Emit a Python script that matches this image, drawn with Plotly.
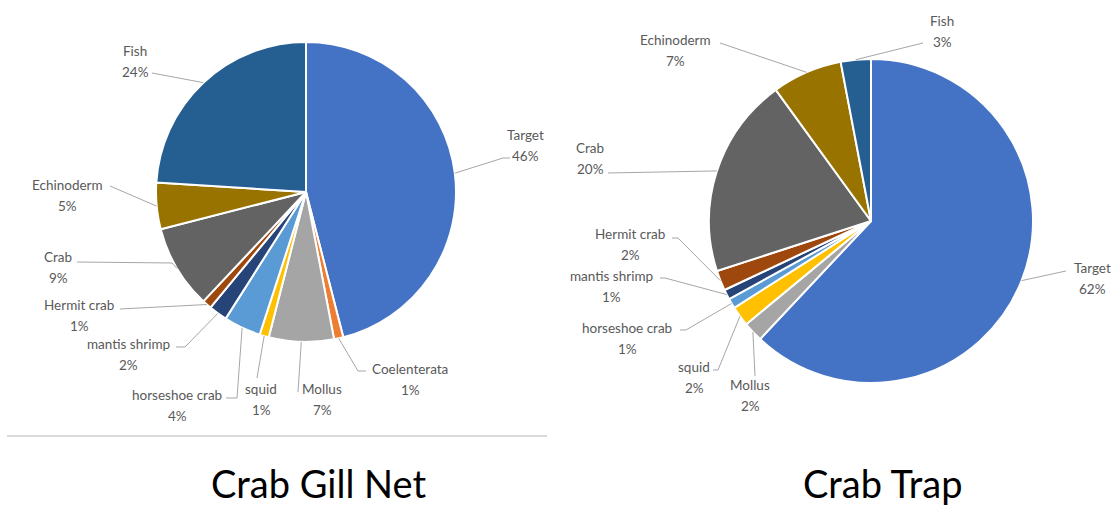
import math
import plotly.graph_objects as go

W, H = 1115, 506

# ---- data ----
categories = ["Target", "Coelenterata", "Mollus", "squid", "horseshoe crab",
              "mantis shrimp", "Hermit crab", "Crab", "Echinoderm", "Fish"]
gill_net_pct = [46, 1, 7, 1, 4, 2, 1, 9, 5, 24]
crab_trap_pct = [62, 0, 2, 2, 1, 1, 2, 20, 7, 3]
chart_titles = ["Crab Gill Net", "Crab Trap"]

# ---- styling ----
slice_colors = {
    "Target": "#4472C4", "Coelenterata": "#ED7D31", "Mollus": "#A5A5A5",
    "squid": "#FFC000", "horseshoe crab": "#5B9BD5", "mantis shrimp": "#264478",
    "Hermit crab": "#9E480E", "Crab": "#636363", "Echinoderm": "#997300",
    "Fish": "#255E91",
}
LABEL_FONT = dict(family="Lato, Open Sans, sans-serif", size=13.5, color="#595959")
TITLE_FONT = dict(family="Lato, Open Sans, sans-serif", size=38, color="#000000")
LEADER_COLOR = "#A6A6A6"

# pie placement in pixels: centre x, centre y, radius
pie_geom = [(306, 192, 150), (871, 221, 162)]

# label placement in pixels: (name centre x, name centre y, leader end x, leader end y, elbow or None)
label_layout = [
    {
        "Target": (525, 135, 510, 158, (503, 158)),
        "Coelenterata": (410, 369, 366, 371, (358, 371)),
        "Mollus": (322, 389, 298, 392, None),
        "squid": (261, 389, 257, 378, None),
        "horseshoe crab": (177, 395, 226, 398, (237, 398)),
        "mantis shrimp": (128, 344, 176, 347, (185, 347)),
        "Hermit crab": (79, 305, 120, 309, None),
        "Crab": (58, 257, 77, 262, (172, 263)),
        "Echinoderm": (67, 185, 110, 186, None),
        "Fish": (135, 51, 152, 73, None),
    },
    {
        "Target": (1092, 268, 1066, 271, None),
        "Mollus": (750, 385, 755, 376, None),
        "squid": (694, 367, 713, 370, (718, 370)),
        "horseshoe crab": (627, 328, 680, 330, (686, 330)),
        "mantis shrimp": (611, 276, 660, 278, (665, 278)),
        "Hermit crab": (630, 234, 672, 238, (678, 238)),
        "Crab": (590, 148, 608, 173, None),
        "Echinoderm": (675, 40, 720, 43, None),
        "Fish": (942, 21, 923, 43, None),
    },
]
PCT_LINE_GAP = 21  # pixels between name line and percentage line
title_pos = [(318, 483), (883, 483)]


def px(x):
    return x / W


def py(y):
    return 1 - y / H


fig = go.Figure()
annotations = []
shapes = []

for idx, values in enumerate([gill_net_pct, crab_trap_pct]):
    cx, cy, r = pie_geom[idx]
    labels = [c for c, v in zip(categories, values) if v > 0]
    vals = [v for v in values if v > 0]
    fig.add_trace(go.Pie(
        labels=labels, values=vals, sort=False, direction="clockwise", rotation=0,
        marker=dict(colors=[slice_colors[c] for c in labels],
                    line=dict(color="#FFFFFF", width=2)),
        textinfo="none", hoverinfo="label+percent", showlegend=False,
        domain=dict(x=[px(cx - r), px(cx + r)], y=[py(cy + r), py(cy - r)]),
    ))

    total = sum(vals)
    cum = 0
    for cat, v in zip(labels, vals):
        mid = (cum + v / 2) / total * 2 * math.pi
        cum += v
        ex = cx + r * math.sin(mid)
        ey = cy - r * math.cos(mid)
        tx, ty, ax, ay, elbow = label_layout[idx][cat]
        pts = [(ex, ey)] + ([elbow] if elbow else []) + [(ax, ay)]
        path = "M " + " L ".join(f"{px(x):.5f},{py(y):.5f}" for x, y in pts)
        shapes.append(dict(type="path", path=path, xref="paper", yref="paper",
                           line=dict(color=LEADER_COLOR, width=1)))
        annotations.append(dict(x=px(tx), y=py(ty), xref="paper", yref="paper",
                                text=cat, showarrow=False, font=LABEL_FONT,
                                xanchor="center", yanchor="middle"))
        annotations.append(dict(x=px(tx), y=py(ty + PCT_LINE_GAP), xref="paper", yref="paper",
                                text=f"{round(v / total * 100)}%", showarrow=False,
                                font=LABEL_FONT, xanchor="center", yanchor="middle"))

    tx, ty = title_pos[idx]
    annotations.append(dict(x=px(tx), y=py(ty), xref="paper", yref="paper",
                            text=chart_titles[idx], showarrow=False, font=TITLE_FONT,
                            xanchor="center", yanchor="middle"))

# thin separator under the left chart
shapes.append(dict(type="line", xref="paper", yref="paper",
                   x0=px(7), x1=px(547), y0=py(436), y1=py(436),
                   line=dict(color="#D9D9D9", width=2)))

fig.update_layout(
    width=W, height=H, margin=dict(l=0, r=0, t=0, b=0),
    paper_bgcolor="#FFFFFF", plot_bgcolor="#FFFFFF",
    annotations=annotations, shapes=shapes,
)

fig.write_html("out.html")
